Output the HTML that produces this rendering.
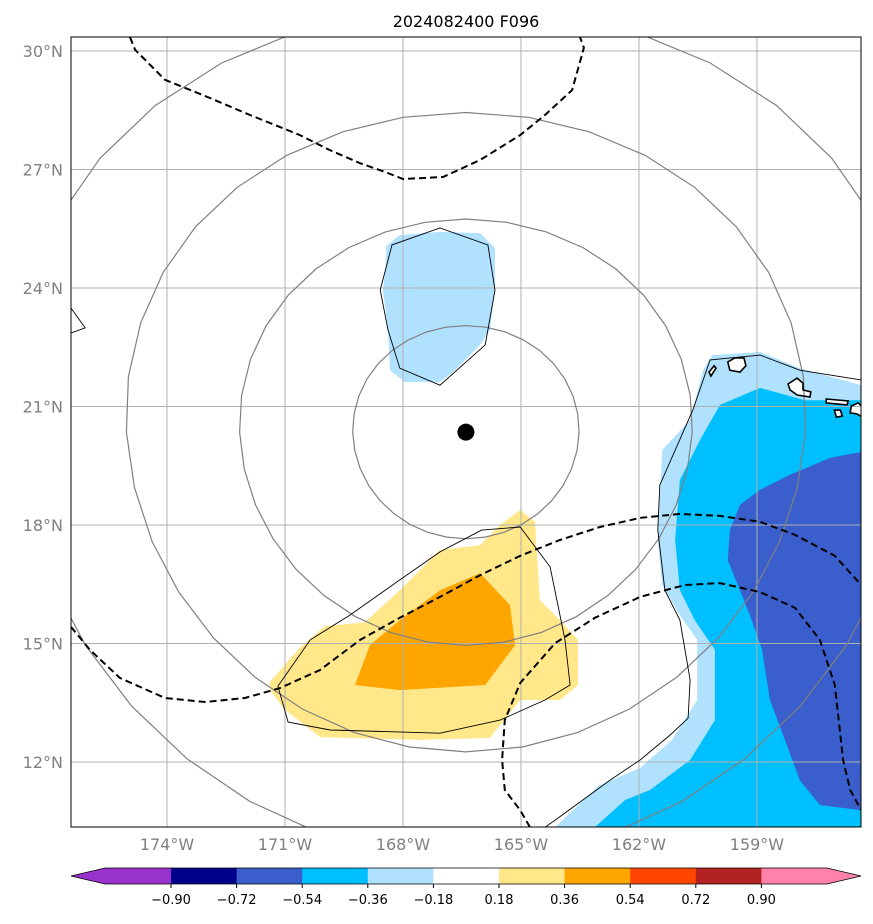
<!DOCTYPE html>
<html><head><meta charset="utf-8"><style>
html,body{margin:0;padding:0;background:#fff;}
svg{display:block;font-family:"DejaVu Sans","Liberation Sans",sans-serif;}
</style></head><body>
<svg id="chart" width="873" height="924" viewBox="0 0 873 924" xmlns="http://www.w3.org/2000/svg">
<defs><clipPath id="plotclip"><rect x="71" y="37" width="790" height="790"/></clipPath></defs>
<text x="466" y="27" text-anchor="middle" font-size="16" fill="#000">2024082400 F096</text>
<g id="fills" clip-path="url(#plotclip)"></g>
<g id="grid" clip-path="url(#plotclip)"></g>
<g id="lines" clip-path="url(#plotclip)"></g>
<rect x="71" y="37" width="790" height="790" fill="none" stroke="#000" stroke-width="1"/>
<g id="axes"></g>
<g id="cbar"></g>
</svg>
<script>
const lonTicks=[-174,-171,-168,-165,-162,-159];
const latTicks=[12,15,18,21,24,27,30];
const stormCenter=[-166.4,20.35];
const ringRadiiKm=[300,600,900,1200];
const cbarLevels=[-0.90,-0.72,-0.54,-0.36,-0.18,0.18,0.36,0.54,0.72,0.90];
const cbarColors=["#9932cc","#00008b","#3a5fcd","#00bfff","#b0e2ff","#ffffff","#ffe78a","#ffa500","#ff4500","#b22222","#ff82ab"];

const blobTop=[[-168.43,25.06],[-168.08,25.34],[-167.06,25.42],[-166.04,25.39],[-165.66,25.01],[-165.66,23.95],[-165.79,22.94],[-166.04,22.56],[-166.68,21.92],[-167.06,21.62],[-167.95,21.62],[-168.33,21.92],[-168.38,22.94],[-168.51,23.95],[-168.43,24.71]];
const yellowArea=[[-171.38,14.03],[-170.62,14.89],[-169.98,15.44],[-168.97,15.54],[-168.08,16.35],[-167.06,17.37],[-166.04,17.49],[-165.53,18.0],[-165.02,18.38],[-164.64,18.08],[-164.52,16.1],[-164.01,15.59],[-163.55,15.09],[-163.55,13.95],[-164.01,13.57],[-165.02,13.57],[-165.79,12.61],[-167.57,12.56],[-170.11,12.63],[-171.0,13.32],[-171.38,13.82]];
const orangeArea=[[-169.22,13.95],[-168.84,14.96],[-168.08,15.59],[-167.06,16.35],[-166.04,16.78],[-165.28,15.97],[-165.15,14.96],[-165.91,13.95],[-168.08,13.82]];
const lightBlueRight=[[-160.37,21.92],[-160.14,22.3],[-158.92,22.38],[-157.91,21.97],[-156.35,21.54],[-156.35,10.35],[-164.13,10.35],[-163.04,11.39],[-161.97,11.85],[-161.16,12.56],[-160.52,13.57],[-160.52,15.09],[-160.96,15.72],[-161.41,16.48],[-161.52,17.62],[-161.41,19.9],[-160.7,20.66]];
const skyBlueRight=[[-159.94,21.04],[-158.92,21.47],[-157.78,21.16],[-156.35,21.16],[-156.35,10.35],[-163.12,10.35],[-162.35,11.04],[-161.72,11.29],[-160.7,12.05],[-160.07,13.06],[-160.07,14.84],[-160.58,15.59],[-160.96,16.35],[-161.08,17.62],[-160.96,19.14],[-160.45,20.15]];
const royalBlueRight=[[-159.69,17.87],[-159.43,18.51],[-158.92,18.89],[-158.16,19.27],[-157.14,19.7],[-156.35,19.85],[-156.35,10.78],[-157.4,10.91],[-157.91,11.54],[-158.29,12.56],[-158.67,13.57],[-158.87,14.84],[-159.18,15.72],[-159.43,16.35],[-159.74,17.11]];

const thinTop=[[-168.58,23.95],[-168.28,25.09],[-167.06,25.52],[-165.84,25.09],[-165.66,23.95],[-165.91,22.56],[-167.06,21.54],[-168.08,21.97],[-168.38,22.94]];
const thinYellow=[[-171.18,13.92],[-170.36,15.09],[-169.35,15.72],[-168.08,16.61],[-167.06,17.32],[-166.0,17.87],[-165.02,17.95],[-164.26,16.94],[-163.88,15.09],[-163.75,13.95],[-164.39,13.57],[-165.53,13.06],[-167.06,12.73],[-169.85,12.81],[-170.92,13.01]];
const thinRight=[[-164.39,10.35],[-164.13,10.53],[-162.74,11.54],[-161.97,12.05],[-161.21,12.68],[-160.75,13.11],[-160.7,14.08],[-160.96,15.59],[-161.34,16.35],[-161.52,17.87],[-161.47,19.01],[-160.63,20.91],[-160.19,22.18],[-158.92,22.3],[-157.91,21.92],[-156.35,21.67]];

const dashTop=[[-174.94,30.35],[-174.81,30.03],[-174.05,29.27],[-172.91,28.81],[-171.89,28.38],[-170.62,27.87],[-169.86,27.49],[-169.09,27.16],[-168.46,26.94],[-168.0,26.76],[-166.98,26.81],[-166.04,27.24],[-165.02,27.87],[-164.39,28.38],[-163.7,29.01],[-163.4,30.08],[-163.5,30.35]];
const dashMid=[[-176.44,15.42],[-175.96,14.84],[-175.2,14.13],[-174.05,13.62],[-173.03,13.52],[-172.02,13.62],[-171.13,13.87],[-170.11,14.33],[-169.09,15.09],[-168.08,15.65],[-167.06,16.18],[-166.04,16.73],[-165.02,17.22],[-164.01,17.62],[-162.99,17.95],[-161.97,18.18],[-160.96,18.28],[-159.94,18.23],[-158.92,18.08],[-158.03,17.75],[-157.02,17.22],[-156.35,16.48]];
const dashLow=[[-164.77,10.35],[-165.02,10.78],[-165.41,11.29],[-165.48,12.05],[-165.41,13.06],[-165.02,14.0],[-164.13,15.01],[-163.12,15.65],[-161.97,16.18],[-160.83,16.48],[-159.94,16.53],[-158.92,16.3],[-158.03,15.9],[-157.4,15.09],[-157.02,13.95],[-156.81,12.05],[-156.63,11.29],[-156.35,10.78]];

const coastWest=[[-176.44,23.49],[-176.08,22.99],[-176.44,22.86]];
const islandNiihau=[[-160.22,21.87],[-160.09,22.03],[-160.04,21.97],[-160.17,21.77]];
const islandKauai=[[-159.74,22.13],[-159.56,22.23],[-159.33,22.23],[-159.28,22.03],[-159.43,21.87],[-159.69,21.92]];
const islandOahu=[[-158.21,21.57],[-157.98,21.72],[-157.83,21.59],[-157.83,21.42],[-157.63,21.37],[-157.65,21.24],[-157.98,21.29],[-158.16,21.42]];
const islandMolokai=[[-157.24,21.19],[-156.68,21.14],[-156.71,21.04],[-157.24,21.09]];
const islandLanai=[[-157.03,20.91],[-156.88,20.91],[-156.83,20.76],[-156.98,20.73]];
const islandMaui=[[-156.6,21.01],[-156.43,21.09],[-156.22,20.91],[-156.22,20.66],[-156.45,20.81],[-156.63,20.84]];

const X=lon=>167+(lon+174)*39.33;
const Y=lat=>51+(30-lat)*39.5;
const NS="http://www.w3.org/2000/svg";
function mk(tag,attrs,parent){const e=document.createElementNS(NS,tag);for(const k in attrs)e.setAttribute(k,attrs[k]);parent.appendChild(e);return e;}
const pts=arr=>arr.map(p=>X(p[0]).toFixed(1)+","+Y(p[1]).toFixed(1)).join(" ");
const fills=document.getElementById("fills"),grid=document.getElementById("grid"),lines=document.getElementById("lines"),axes=document.getElementById("axes"),cbar=document.getElementById("cbar");

function fillPoly(arr,color,name){const e=mk("polygon",{points:pts(arr),fill:color,stroke:"none"},fills);

}
fillPoly(blobTop,"#b0e2ff","fill-light-blue-north");
fillPoly(yellowArea,"#ffe78a","fill-yellow");
fillPoly(orangeArea,"#ffa500","fill-orange");
fillPoly(lightBlueRight,"#b0e2ff","fill-light-blue-east");
fillPoly(skyBlueRight,"#00bfff","fill-sky-blue-east");
fillPoly(royalBlueRight,"#3a5fcd","fill-royal-blue-east");
[islandNiihau,islandKauai,islandOahu,islandMolokai,islandLanai,islandMaui].forEach(a=>{const e=mk("polygon",{points:pts(a),fill:"#fff",stroke:"none"},fills);

});

lonTicks.forEach(l=>{const e=mk("line",{x1:X(l),x2:X(l),y1:37,y2:827,stroke:"#b0b0b0","stroke-width":1},grid);

});
latTicks.forEach(l=>{const e=mk("line",{x1:71,x2:861,y1:Y(l),y2:Y(l),stroke:"#b0b0b0","stroke-width":1},grid);

});

ringRadiiKm.forEach(r=>{const d=r/111.2;const p=[];const n=36;
for(let i=0;i<n;i++){const a=2*Math.PI*i/n;const lat=stormCenter[1]+d*Math.sin(a);p.push([stormCenter[0]+d*Math.cos(a)/Math.cos(lat*Math.PI/180),lat]);}
const e=mk("polygon",{points:pts(p),fill:"none",stroke:"#808080","stroke-width":1.2},lines);

});

function line(arr,closed,style,name){const e=mk(closed?"polygon":"polyline",Object.assign({points:pts(arr),fill:"none"},style),lines);

}
const thin={stroke:"#000","stroke-width":0.9};
line(thinTop,true,thin,"thin-contour-north");
line(thinYellow,true,thin,"thin-contour-south");
line(thinRight,false,thin,"thin-contour-east");
const dash={stroke:"#000","stroke-width":2,"stroke-dasharray":"7,4"};
line(dashTop,false,dash,"dashed-contour-north");
line(dashMid,false,dash,"dashed-contour-middle");
line(dashLow,false,dash,"dashed-contour-south");
line(coastWest,false,thin,"coastline-west");
[islandNiihau,islandKauai,islandOahu,islandMolokai,islandLanai,islandMaui].forEach(a=>line(a,true,{stroke:"#000","stroke-width":1.6},"island-outline"));

const c=mk("circle",{cx:X(stormCenter[0]),cy:Y(stormCenter[1]),r:8.5,fill:"#000"},lines);



lonTicks.forEach(l=>{const t=mk("text",{x:X(l),y:850,"text-anchor":"middle","font-size":16,fill:"#808080"},axes);t.textContent=Math.abs(l)+"°W";

});
latTicks.forEach(l=>{const t=mk("text",{x:63,y:Y(l)+6,"text-anchor":"end","font-size":16,fill:"#808080"},axes);t.textContent=l+"°N";

});

const cbX=lv=>171+(cbarLevels.indexOf(lv))*65.6;
const segEdges=[105].concat(cbarLevels.map(cbX)).concat([827]);
for(let i=0;i<cbarColors.length;i++){const r=mk("rect",{x:segEdges[i],y:868,width:segEdges[i+1]-segEdges[i]+0.5,height:16,fill:cbarColors[i]},cbar);

}
const tl=mk("polygon",{points:"71,876 105,868 105,884",fill:cbarColors[0]},cbar);


const tr=mk("polygon",{points:"861,876 827,868 827,884",fill:cbarColors[cbarColors.length-1]},cbar);


const ol=mk("polygon",{points:"71,876 105,868 827,868 861,876 827,884 105,884",fill:"none",stroke:"#000","stroke-width":0.8},cbar);


cbarLevels.forEach(lv=>{const x=cbX(lv);mk("line",{x1:x,x2:x,y1:884,y2:888,stroke:"#000"},cbar);
const t=mk("text",{x:x,y:904,"text-anchor":"middle","font-size":13,fill:"#000"},cbar);t.textContent=(lv<0?"\u2212":"")+Math.abs(lv).toFixed(2);

});
</script>
</body></html>
